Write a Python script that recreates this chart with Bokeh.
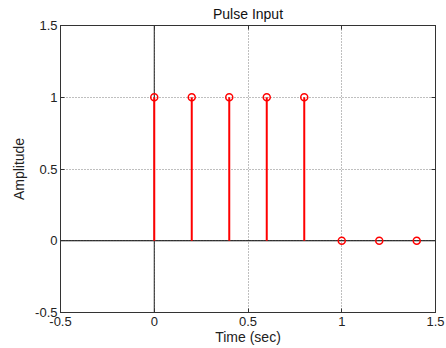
from bokeh.plotting import figure
from bokeh.models import Range1d, FixedTicker, LinearAxis, Span, CustomLabelingPolicy
from bokeh.embed import file_html
from bokeh.resources import INLINE

# Data
t = [0.0, 0.2, 0.4, 0.6, 0.8, 1.0, 1.2, 1.4]
amp = [1, 1, 1, 1, 1, 0, 0, 0]
base = [0, 0, 0, 0, 0, 0, 0, 0]
tick_vals = [-0.5, 0, 0.5, 1, 1.5]
tick_labels = ["-0.5", "0", "0.5", "1", "1.5"]

FONT = "Liberation Sans"
FS = "13px"
FS_LAB = "14px"

p = figure(width=446, height=348, output_backend="svg", toolbar_location=None,
           x_range=Range1d(-0.5, 1.5), y_range=Range1d(-0.5, 1.5),
           min_border_left=60, min_border_right=11, min_border_top=25, min_border_bottom=36,
           x_axis_label="Time (sec)", y_axis_label="Amplitude")
p.background_fill_color = "white"
p.border_fill_color = "white"
p.outline_line_color = "#333333"
p.outline_line_width = 1

p.title.text = "Pulse Input"
p.title.align = "center"
p.title.text_font = FONT
p.title.text_font_size = FS_LAB
p.title.text_font_style = "normal"
p.title.text_color = "#111111"
p.title.standoff = 7
p.title.offset = 0

overrides = {v: s for v, s in zip(tick_vals, tick_labels)}

for ax in (p.xaxis[0], p.yaxis[0]):
    ax.ticker = FixedTicker(ticks=tick_vals)
    ax.major_label_overrides = overrides
    ax.minor_tick_line_color = None
    ax.major_tick_in = 4
    ax.major_tick_out = 0
    ax.axis_line_color = "#333333"
    ax.major_tick_line_color = "#333333"
    ax.major_label_text_font = FONT
    ax.major_label_text_font_size = FS
    ax.major_label_text_color = "#222222"
    ax.axis_label_text_font = FONT
    ax.axis_label_text_font_size = FS_LAB
    ax.axis_label_text_font_style = "normal"
    ax.axis_label_text_color = "#222222"

p.xaxis.major_label_standoff = 4
p.xaxis.axis_label_standoff = 0
p.yaxis.major_label_standoff = 3
p.yaxis.axis_label_standoff = 5

no_labels = CustomLabelingPolicy(code="""
for (const i of indices) { indices.unset(i) }
return indices
""")

for side in ("above", "right"):
    ax = LinearAxis(ticker=FixedTicker(ticks=tick_vals))
    ax.major_label_policy = no_labels
    ax.major_label_text_font_size = "0px"
    ax.major_label_standoff = 0
    ax.minor_tick_line_color = None
    ax.major_tick_in = 4
    ax.major_tick_out = 0
    ax.axis_line_color = "#333333"
    ax.major_tick_line_color = "#333333"
    p.add_layout(ax, side)

for g in (p.xgrid[0], p.ygrid[0]):
    g.ticker = FixedTicker(ticks=tick_vals)
    g.grid_line_color = "#7f7f7f"
    g.grid_line_dash = "1 2"
    g.grid_line_width = 1

p.add_layout(Span(location=0, dimension="width", line_color="black", line_width=1, level="underlay"))
p.add_layout(Span(location=0, dimension="height", line_color="#222222", line_width=1, level="underlay"))

p.segment(x0=t, y0=base, x1=t, y1=amp, line_color="red", line_width=2)
p.scatter(t, amp, marker="circle", size=7, line_color="red", line_width=1.5, fill_color=None)

open("out.html", "w").write(file_html(p, INLINE))
